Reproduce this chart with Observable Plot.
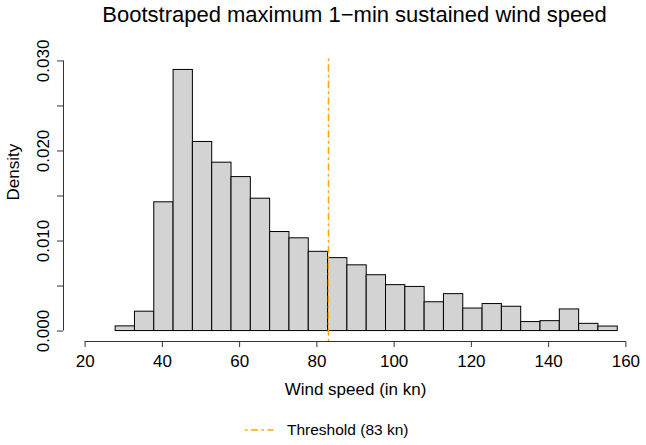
<!DOCTYPE html>
<html>
<head>
<meta charset="utf-8">
<script src="https://cdn.jsdelivr.net/npm/d3@7"></script>
<script src="https://cdn.jsdelivr.net/npm/@observablehq/plot@0.6"></script>
<style>
  html, body { margin: 0; padding: 0; background: #fff; overflow: hidden; }
  body { width: 646px; height: 445px; font-family: "Liberation Sans", Arial, sans-serif; color: #000; }
  #title { position: relative; height: 40px; }
  #title span { position: absolute; left: 63px; width: 583px; top: 2px; text-align: center;
                font-size: 22px; line-height: 26px; white-space: nowrap; }
  #chart svg { display: block; }
  #legend { position: relative; height: 40px; }
  #legend svg { position: absolute; left: 244px; top: 20px; }
  #legend span { position: absolute; left: 287px; top: 15.6px; font-size: 15.5px; line-height: 18px; white-space: nowrap; }
</style>
</head>
<body>
<div id="title"><span></span></div>
<div id="chart"></div>
<div id="legend"></div>
<script>
// Histogram of bootstrapped maximum sustained wind speeds (density scale)
const titleText = "Bootstraped maximum 1\u2212min sustained wind speed";
const xLabel = "Wind speed (in kn)";
const yLabel = "Density";
const legendLabel = "Threshold (83 kn)";

// bin edges (kn)
const breaks = [27.9, 32.9, 37.9, 42.9, 47.9, 52.9, 57.9, 62.9, 67.9, 72.9, 77.9, 82.9, 87.9,
                92.9, 97.9, 102.9, 107.9, 112.9, 117.9, 122.9, 127.9, 132.9, 137.9, 142.9, 147.9, 152.9, 157.9];
// density of each bin
const density = [0.00052, 0.00215, 0.0143, 0.0290, 0.0210, 0.0187, 0.0171, 0.0147, 0.0110, 0.0103,
                 0.0088, 0.0081, 0.0073, 0.0062, 0.0051, 0.0049, 0.0032, 0.0041, 0.0025, 0.0030,
                 0.0027, 0.0010, 0.0011, 0.0024, 0.0008, 0.0005];

const threshold = 83;
const xTicks = [20, 40, 60, 80, 100, 120, 140, 160];
const yTicks = [0, 0.005, 0.010, 0.015, 0.020, 0.025, 0.030];
const yLabelTicks = [0, 0.010, 0.020, 0.030];

const bins = density.map((d, i) => ({lo: breaks[i], hi: breaks[i + 1], density: d}));

const xDomain = [14.4, 165.6];
const yDomain = [-0.00116, 0.03016];
const fontFamily = "'Liberation Sans', Arial, sans-serif";
const orange = "#FFA500";
const axisColor = "#333";

document.querySelector("#title span").textContent = titleText;

const chart = Plot.plot({
  width: 646,
  height: 365,
  marginLeft: 63,
  marginRight: -1,
  marginTop: 19,
  marginBottom: 64,
  style: {fontFamily, fontSize: "17px", background: "white", color: "black", overflow: "visible"},
  x: {domain: xDomain},
  y: {domain: yDomain},
  marks: [
    Plot.rect(bins, {x1: "lo", x2: "hi", y1: 0, y2: "density", inset: 0,
                     fill: "#D3D3D3", stroke: "black", strokeWidth: 1}),
    Plot.ruleX([threshold], {stroke: orange, strokeWidth: 1.5,
                             strokeDasharray: "1.5,4.5,6,4.5", strokeLinecap: "round"}),
    // axis lines spanning the first to last tick
    Plot.ruleY([yDomain[0]], {x1: xTicks[0], x2: xTicks[xTicks.length - 1], stroke: axisColor}),
    Plot.ruleX([xDomain[0]], {y1: yTicks[0], y2: yTicks[yTicks.length - 1], stroke: axisColor}),
    Plot.axisX(xTicks, {tickSize: 6, tickPadding: 7.5, fontSize: 17, label: null, stroke: axisColor}),
    Plot.axisY(yTicks, {tickSize: 6, tickFormat: () => "", label: null, stroke: axisColor}),
    Plot.axisY(yLabelTicks, {tickSize: 0, tickPadding: 15, tickRotate: -90, tickFormat: ".3f",
                             fontSize: 17, label: null}),
    Plot.text([xLabel], {frameAnchor: "bottom", lineAnchor: "bottom", dy: 53, fontSize: 17}),
    Plot.text([yLabel], {frameAnchor: "left", rotate: -90, lineAnchor: "bottom", dx: -45, fontSize: 17})
  ]
});
document.getElementById("chart").append(chart);

// legend: dot-dash swatch and label
const legend = document.getElementById("legend");
legend.innerHTML =
  `<svg width="32" height="10"><line x1="1.5" y1="5" x2="29" y2="5" stroke="${orange}" stroke-width="1.5"
     stroke-dasharray="1.5,4.5,6,4.5" stroke-linecap="round"/></svg><span></span>`;
legend.querySelector("span").textContent = legendLabel;
</script>
</body>
</html>
